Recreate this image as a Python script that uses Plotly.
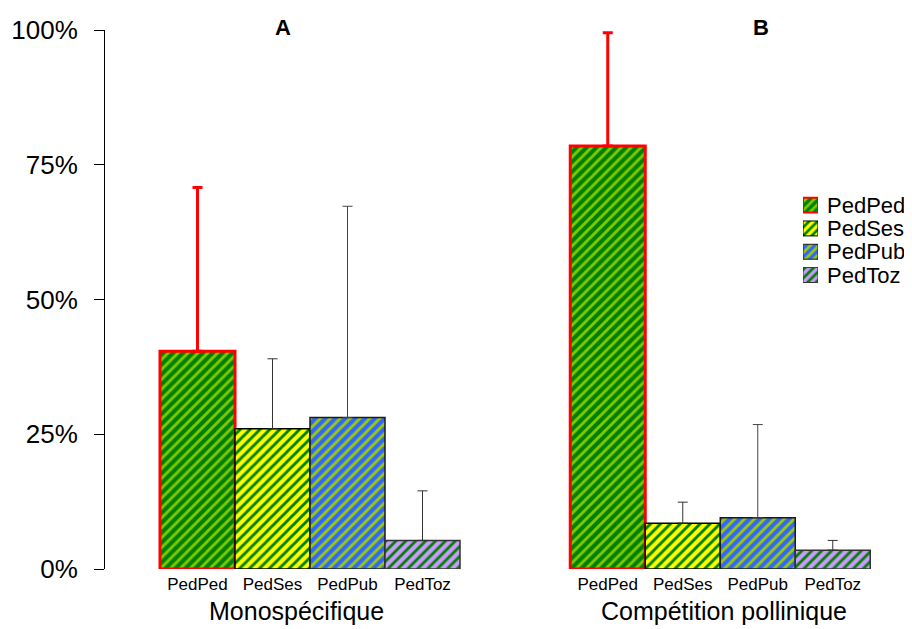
import plotly.graph_objects as go

# ---------------- data ----------------
series = ["PedPed", "PedSes", "PedPub", "PedToz"]
groups = ["Monospécifique", "Compétition pollinique"]
panel_letters = ["A", "B"]
# mean % per series: [Monospécifique, Compétition pollinique]
mean_pct = {
    "PedPed": [40.4, 78.5],
    "PedSes": [26.0, 8.5],
    "PedPub": [28.1, 9.5],
    "PedToz": [5.3, 3.5],
}
# upper error (added above mean)
err_pct = {
    "PedPed": [30.4, 21.0],
    "PedSes": [13.0, 3.9],
    "PedPub": [39.2, 17.3],
    "PedToz": [9.2, 1.8],
}
y_ticks = [0, 25, 50, 75, 100]
y_ticktext = ["0%", "25%", "50%", "75%", "100%"]

# ---------------- styles ----------------
FONT = "Liberation Sans, Arial, sans-serif"
styles = {
    "PedPed": dict(bg="#008000", fg="#80c800", line="#ff0000", lw=3, sol=0.42,
                   ecol="#ff0000", eth=3),
    "PedSes": dict(bg="#ffff00", fg="#008000", line="#000000", lw=1.5, sol=0.42,
                   ecol="#333333", eth=1),
    "PedPub": dict(bg="#3366ff", fg="#99cc00", line="#1a1a1a", lw=1.5, sol=0.42,
                   ecol="#444444", eth=1),
    "PedToz": dict(bg="#cc99ff", fg="#008000", line="#333333", lw=1.5, sol=0.40,
                   ecol="#333333", eth=1),
}

# page has an 8px body margin: work in window pixels, convert to paper
OFF = 8
VW, VH = 912, 629
W, H = VW - OFF, VH - OFF


def px_x(px):
    return (px - OFF) / W


def px_y(py):
    return 1 - (py - OFF) / H


group_start = [0.0, 5.47]
PX_PER_UNIT = 75.0
x_left_px = 105.0
first_center_px = 197.5
x0 = -(first_center_px - x_left_px) / PX_PER_UNIT
x1 = x0 + (VW - x_left_px) / PX_PER_UNIT

y0_px, y100_px = 569.0, 30.0

fig = go.Figure()

tickvals, ticktext = [], []
for i, s in enumerate(series):
    st = styles[s]
    xs = [group_start[g] + i for g in range(len(groups))]
    tickvals += xs
    ticktext += [s] * len(groups)
    fig.add_trace(go.Bar(
        x=xs, y=mean_pct[s], width=1.0, name=s, showlegend=False,
        marker=dict(color=st["bg"],
                    line=dict(color=st["line"], width=st["lw"]),
                    pattern=dict(shape="/", fgcolor=st["fg"], bgcolor=st["bg"],
                                 size=7, solidity=st["sol"], fillmode="replace")),
        error_y=dict(type="data", symmetric=False, array=err_pct[s],
                     arrayminus=[0] * len(groups), color=st["ecol"],
                     thickness=st["eth"], width=5),
    ))

# custom legend (mini axes)
leg_top_px, leg_row_px = 193.5, 23.3
leg_bottom_px = leg_top_px + leg_row_px * len(series)
for i, s in enumerate(series):
    st = styles[s]
    fig.add_trace(go.Bar(
        x=[1], y=[i], orientation="h", width=0.64, showlegend=False,
        xaxis="x2", yaxis="y2", hoverinfo="skip",
        marker=dict(color=st["bg"],
                    line=dict(color=st["line"], width=2 if s == "PedPed" else 1),
                    pattern=dict(shape="/", fgcolor=st["fg"], bgcolor=st["bg"],
                                 size=6, solidity=0.45, fillmode="replace")),
    ))
    yc = leg_top_px + leg_row_px * (i + 0.5)
    fig.add_annotation(text=s, xref="paper", yref="paper", x=px_x(825), y=px_y(yc),
                       xanchor="left", yanchor="middle", showarrow=False,
                       font=dict(family=FONT, size=22, color="black"))

# group labels
group_label_px = [296.5, 724.0]
for g, name in enumerate(groups):
    fig.add_annotation(text=name, xref="paper", yref="paper",
                       x=px_x(group_label_px[g]), y=px_y(611),
                       xanchor="center", yanchor="middle", showarrow=False,
                       font=dict(family=FONT, size=25, color="black"))
# panel letters
letter_px = [283, 761]
for g, L in enumerate(panel_letters):
    fig.add_annotation(text="<b>%s</b>" % L, xref="paper", yref="paper",
                       x=px_x(letter_px[g]), y=px_y(27),
                       xanchor="center", yanchor="middle", showarrow=False,
                       font=dict(family=FONT, size=22, color="black"))

fig.update_layout(
    width=W, height=H, margin=dict(l=0, r=0, t=0, b=0),
    paper_bgcolor="white", plot_bgcolor="white",
    barmode="overlay", showlegend=False,
    font=dict(family=FONT, color="black"),
    xaxis=dict(domain=[px_x(x_left_px), 1], range=[x0, x1], showgrid=False,
               zeroline=False, showline=False, ticks="",
               tickvals=tickvals, ticktext=ticktext, tickangle=0,
               tickfont=dict(family=FONT, size=17, color="black"),
               ticklabelstandoff=3, automargin=False, fixedrange=True),
    yaxis=dict(domain=[px_y(y0_px), px_y(y100_px)], range=[0, 100],
               showgrid=False, zeroline=False, showline=True, linecolor="black",
               linewidth=1, ticks="outside", ticklen=10, tickcolor="black",
               tickvals=y_ticks, ticktext=y_ticktext,
               tickfont=dict(family=FONT, size=26, color="black"),
               ticklabelstandoff=11, automargin=False, fixedrange=True),
    xaxis2=dict(domain=[px_x(803), px_x(818)], range=[0, 1], visible=False,
                anchor="y2", fixedrange=True),
    yaxis2=dict(domain=[px_y(leg_bottom_px), px_y(leg_top_px)],
                range=[len(series) - 0.5, -0.5], visible=False, anchor="x2",
                fixedrange=True),
)

fig.write_html("out.html")
